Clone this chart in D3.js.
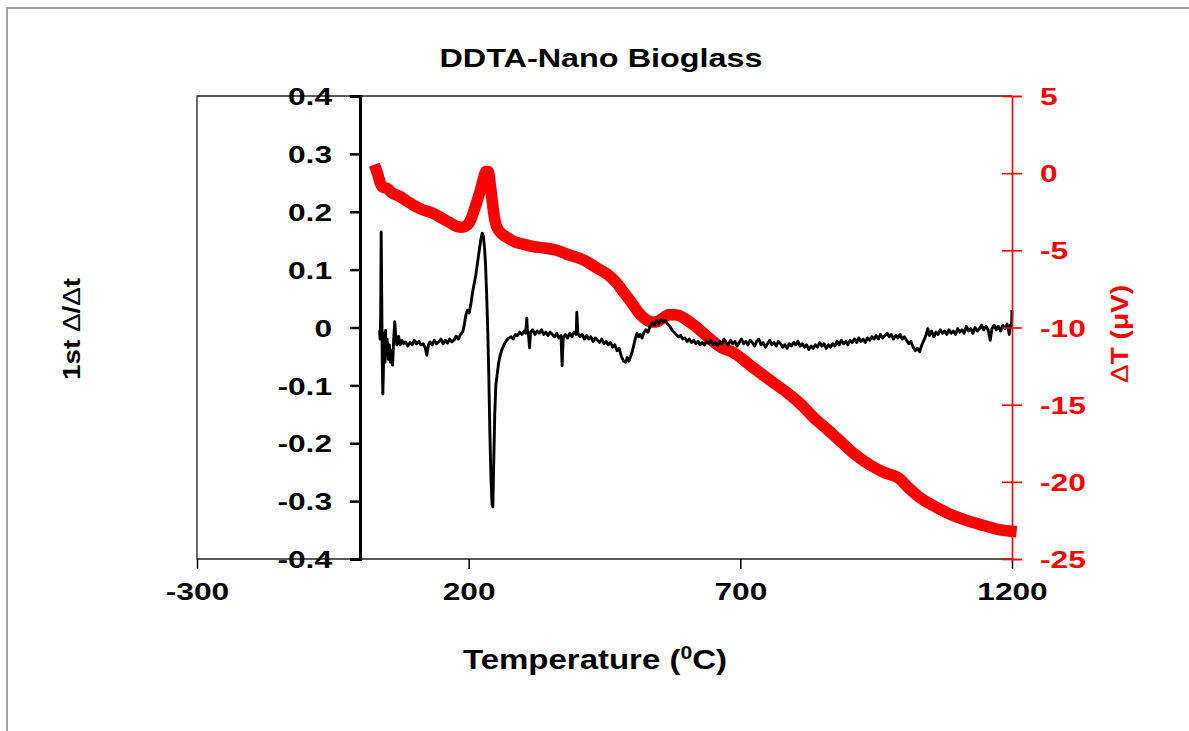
<!DOCTYPE html>
<html>
<head>
<meta charset="utf-8">
<script src="https://cdn.jsdelivr.net/npm/d3@7"></script>
<style>
  html, body { margin: 0; padding: 0; background: #fff; }
  svg { display: block; }
  text { font-family: "Liberation Sans", Arial, sans-serif; font-weight: bold; }
</style>
</head>
<body>
<svg id="chart" width="1189" height="731"></svg>
<script>
// ---- Data ----
const xTicks = [-300, 200, 700, 1200];
const xTickLabels = ["-300", "200", "700", "1200"];
const leftTicks = [-0.4, -0.3, -0.2, -0.1, 0, 0.1, 0.2, 0.3, 0.4];
const leftTickLabels = ["-0.4", "-0.3", "-0.2", "-0.1", "0", "0.1", "0.2", "0.3", "0.4"];
const rightTicks = [-25, -20, -15, -10, -5, 0, 5];
const rightTickLabels = ["-25", "-20", "-15", "-10", "-5", "0", "5"];

// DTA signal (ΔT, µV) vs temperature
const dtaT = [30, 33, 37, 42, 50, 60, 73, 90, 110, 134, 150, 165, 178, 188, 196, 204, 212, 220, 227, 232, 236, 240, 244, 248, 252, 260, 270, 285, 300, 318, 340, 362, 385, 410, 425, 441, 457, 472, 487, 502, 512, 520, 533, 545, 557, 570, 585, 601, 620, 643, 665, 686, 720, 750, 785, 809, 840, 860, 882, 910, 943, 965, 993, 1010, 1030, 1053, 1080, 1116, 1150, 1176, 1198];
const dtaV = [0.2, -0.1, -0.6, -0.9, -1.0, -1.3, -1.5, -1.9, -2.3, -2.6, -2.9, -3.2, -3.45, -3.5, -3.4, -3.0, -2.2, -1.3, -0.4, 0.1, 0.1, -0.8, -2.0, -3.0, -3.5, -3.9, -4.15, -4.45, -4.6, -4.75, -4.85, -5.0, -5.3, -5.6, -5.9, -6.25, -6.6, -7.1, -7.8, -8.5, -9.0, -9.3, -9.6, -9.65, -9.4, -9.15, -9.2, -9.5, -10.0, -10.7, -11.3, -11.6, -12.5, -13.3, -14.2, -14.9, -16.0, -16.6, -17.3, -18.2, -19.0, -19.4, -19.8, -20.4, -21.0, -21.5, -22.0, -22.5, -22.85, -23.1, -23.2];

// First derivative (1st Δ/Δt) vs temperature
const derivT = [36, 37, 38, 39, 40, 41, 42, 43, 44, 45, 46, 47, 48, 50, 52, 54, 56, 58, 60, 62, 64, 66, 68, 71, 74, 77, 80, 84, 88, 92, 96, 100, 104, 108, 112, 116, 120, 123, 126, 129, 133, 137, 141, 145, 149, 153, 157, 161, 165, 169, 173, 177, 181, 185, 189, 192, 195, 198, 201, 204, 207, 210, 213, 216, 219, 222, 225, 227, 229, 231, 233, 235, 237, 239, 241, 243, 244.5, 246, 248, 250, 252, 255, 258, 262, 266, 270, 274, 278, 282, 286, 290, 294, 298, 302, 305, 307, 308, 310, 312, 314, 318, 322, 326, 330, 334, 338, 342, 346, 350, 354, 358, 362, 366, 370, 372, 374, 378, 382, 386, 390, 394, 398, 399, 401, 405, 409, 413, 417, 421, 425, 429, 433, 437, 441, 445, 449, 453, 457, 461, 465, 469, 473, 477, 481, 485, 489, 492, 495, 498, 501, 504, 507, 510, 513, 516, 519, 522, 526, 530, 534, 538, 542, 546, 550, 554, 558, 562, 566, 570, 574, 578, 582, 586, 590, 594, 598, 602, 606, 610, 614, 618, 622, 626, 630, 634, 638, 642, 646, 650, 654, 658, 662, 666, 670, 674, 678, 682, 686, 690, 694, 698, 702, 706, 710, 714, 718, 722, 726, 730, 734, 738, 742, 746, 750, 754, 758, 762, 766, 770, 774, 778, 782, 786, 790, 794, 798, 802, 806, 810, 814, 818, 822, 826, 830, 834, 838, 842, 846, 850, 854, 858, 862, 866, 870, 874, 878, 882, 886, 890, 894, 898, 902, 906, 910, 914, 918, 922, 926, 930, 934, 938, 942, 946, 950, 954, 958, 962, 966, 970, 974, 978, 982, 986, 990, 994, 998, 1002, 1006, 1010, 1014, 1018, 1022, 1026, 1030, 1034, 1038, 1042, 1045, 1048, 1052, 1056, 1060, 1064, 1068, 1072, 1076, 1080, 1084, 1088, 1092, 1096, 1100, 1104, 1108, 1112, 1116, 1120, 1124, 1128, 1132, 1136, 1140, 1144, 1148, 1152, 1156, 1160, 1163, 1167, 1171, 1175, 1179, 1183, 1187, 1191, 1195, 1197, 1199, 1200];
const derivV = [-0.005, -0.02, 0.02, 0.165, 0.05, -0.06, -0.115, -0.08, -0.01, -0.04, -0.06, -0.005, -0.045, -0.02, -0.055, -0.03, -0.06, -0.04, -0.065, -0.02, 0.01, -0.02, -0.03, -0.015, -0.03, -0.022, -0.028, -0.025, -0.032, -0.026, -0.03, -0.022, -0.028, -0.024, -0.03, -0.028, -0.035, -0.048, -0.03, -0.025, -0.03, -0.022, -0.028, -0.025, -0.02, -0.028, -0.022, -0.027, -0.02, -0.025, -0.022, -0.015, -0.02, -0.012, -0.008, 0.005, 0.022, 0.03, 0.025, 0.04, 0.06, 0.075, 0.09, 0.11, 0.13, 0.15, 0.163, 0.158, 0.14, 0.11, 0.06, 0.0, -0.08, -0.18, -0.26, -0.305, -0.31, -0.24, -0.15, -0.1, -0.085, -0.062, -0.048, -0.036, -0.028, -0.022, -0.018, -0.016, -0.02, -0.012, -0.014, -0.008, -0.012, -0.006, -0.01, 0.016, -0.005, -0.012, -0.035, -0.008, -0.004, -0.012, -0.006, -0.01, -0.004, -0.012, -0.008, -0.014, -0.008, -0.012, -0.016, -0.01, -0.018, -0.014, -0.066, -0.018, -0.012, -0.018, -0.01, -0.016, -0.008, -0.012, 0.026, -0.01, -0.016, -0.012, -0.02, -0.014, -0.02, -0.016, -0.024, -0.018, -0.022, -0.026, -0.02, -0.028, -0.024, -0.03, -0.026, -0.034, -0.03, -0.04, -0.036, -0.05, -0.058, -0.06, -0.052, -0.058, -0.05, -0.042, -0.03, -0.018, -0.01, -0.016, -0.012, -0.018, -0.01, -0.004, -0.008, 0.002, 0.008, 0.004, 0.012, 0.006, 0.014, 0.01, 0.012, 0.006, 0.002, -0.004, -0.008, -0.012, -0.016, -0.014, -0.02, -0.018, -0.024, -0.02, -0.026, -0.022, -0.028, -0.024, -0.03, -0.026, -0.03, -0.024, -0.028, -0.022, -0.03, -0.026, -0.032, -0.024, -0.028, -0.02, -0.026, -0.03, -0.022, -0.028, -0.024, -0.032, -0.026, -0.02, -0.028, -0.024, -0.03, -0.022, -0.026, -0.032, -0.024, -0.02, -0.03, -0.026, -0.034, -0.028, -0.022, -0.03, -0.026, -0.032, -0.024, -0.028, -0.034, -0.03, -0.036, -0.028, -0.032, -0.026, -0.03, -0.024, -0.032, -0.028, -0.034, -0.03, -0.038, -0.032, -0.036, -0.03, -0.034, -0.026, -0.032, -0.028, -0.036, -0.03, -0.034, -0.028, -0.032, -0.024, -0.03, -0.022, -0.028, -0.024, -0.03, -0.022, -0.026, -0.02, -0.026, -0.018, -0.024, -0.02, -0.026, -0.018, -0.022, -0.016, -0.02, -0.014, -0.02, -0.012, -0.018, -0.014, -0.01, -0.016, -0.012, -0.02, -0.014, -0.018, -0.012, -0.02, -0.016, -0.022, -0.028, -0.024, -0.034, -0.04, -0.036, -0.042, -0.03, -0.022, -0.012, -0.002, -0.014, -0.006, -0.016, -0.008, -0.012, -0.004, -0.01, -0.006, -0.012, -0.004, -0.01, -0.006, -0.012, -0.002, -0.008, -0.004, -0.01, 0.002, -0.006, -0.002, -0.01, 0.0, -0.006, -0.002, 0.004, -0.004, 0.002, -0.004, -0.022, -0.002, 0.004, -0.004, 0.002, -0.006, 0.004, -0.002, 0.006, -0.012, 0.004, 0.0, 0.03];

// ---- Layout ----
const svg = d3.select("#chart");
const plot = { left: 197, right: 1012, top: 96, bottom: 559 };

const x = d3.scaleLinear().domain([-300, 1200]).range([plot.left, plot.right]);
const yL = d3.scaleLinear().domain([-0.4, 0.4]).range([plot.bottom, plot.top]);
const yR = d3.scaleLinear().domain([-25, 5]).range([plot.bottom, plot.top]);

const TICK_STRETCH = 1.32;
function stretch(sel, factor, target) {
  sel.each(function () {
    const w = this.getComputedTextLength();
    const t = target != null ? target : w * factor;
    this.setAttribute("textLength", t);
    this.setAttribute("lengthAdjust", "spacingAndGlyphs");
  });
}

// outer frame (left and top visible)
svg.append("path").attr("d", "M7,731 V8 H1189")
  .attr("fill", "none").attr("stroke", "#a0a0a0").attr("stroke-width", 2);

// plot frame
svg.append("path")
  .attr("d", `M${plot.right},${plot.top} H${plot.left} V${plot.bottom} H${plot.right}`)
  .attr("fill", "none").attr("stroke", "#222").attr("stroke-width", 1.3);

// Series: DTA (red, thick)
const dtaData = dtaT.map((t, i) => [t, dtaV[i]]);
svg.append("path")
  .datum(dtaData)
  .attr("fill", "none")
  .attr("stroke", "#ff0000")
  .attr("stroke-width", 11.5)
  .attr("stroke-linejoin", "round")
  .attr("stroke-linecap", "square")
  .attr("d", d3.line().x(d => x(d[0])).y(d => yR(d[1])).curve(d3.curveMonotoneX));

// Series: derivative (black)
const derivData = derivT.map((t, i) => [t, derivV[i]]);
svg.append("path")
  .datum(derivData)
  .attr("fill", "none")
  .attr("stroke", "#000")
  .attr("stroke-width", 2.9)
  .attr("stroke-linejoin", "round")
  .attr("d", d3.line().x(d => x(d[0])).y(d => yL(d[1])));

// Left axis at x = 0
const leftAxis = d3.axisLeft(yL).tickValues(leftTicks)
  .tickFormat((d, i) => leftTickLabels[i]).tickSize(10).tickPadding(18);
const gL = svg.append("g").attr("transform", `translate(${x(0)},0)`).call(leftAxis);
gL.select(".domain").attr("stroke", "#000").attr("stroke-width", 3);
gL.selectAll(".tick line").attr("stroke", "#000").attr("stroke-width", 2.5);
gL.selectAll(".tick text").attr("font-size", 24).attr("fill", "#000")
  .attr("font-family", "Liberation Sans, Arial, sans-serif").attr("font-weight", "bold")
  .attr("dy", "0.36em");
stretch(gL.selectAll(".tick text"), TICK_STRETCH);

// Bottom axis
const bottomAxis = d3.axisBottom(x).tickValues(xTicks)
  .tickFormat((d, i) => xTickLabels[i]).tickSize(10).tickPadding(14);
const gB = svg.append("g").attr("transform", `translate(0,${plot.bottom})`).call(bottomAxis);
gB.select(".domain").remove();
gB.selectAll(".tick line").attr("stroke", "#000").attr("stroke-width", 1.5);
gB.selectAll(".tick text").attr("font-size", 24).attr("fill", "#000")
  .attr("font-family", "Liberation Sans, Arial, sans-serif").attr("font-weight", "bold");
stretch(gB.selectAll(".tick text"), TICK_STRETCH);

// Right axis (red)
const rightAxis = d3.axisRight(yR).tickValues(rightTicks)
  .tickFormat((d, i) => rightTickLabels[i]).tickSize(10).tickPadding(18);
const gR = svg.append("g").attr("transform", `translate(${plot.right},0)`).call(rightAxis);
gR.select(".domain").attr("stroke", "#ff0000").attr("stroke-width", 1.6);
gR.selectAll(".tick line").attr("stroke", "#ff0000").attr("stroke-width", 1.6).attr("x1", -10);
gR.selectAll(".tick text").attr("font-size", 24).attr("fill", "#ff0000")
  .attr("font-family", "Liberation Sans, Arial, sans-serif").attr("font-weight", "bold")
  .attr("dy", "0.36em");
stretch(gR.selectAll(".tick text"), TICK_STRETCH);

// Title
const title = svg.append("text").attr("x", 601).attr("y", 67)
  .attr("text-anchor", "middle").attr("font-size", 26).attr("fill", "#000")
  .text("DDTA-Nano Bioglass");
stretch(title, 1, 323);

// X title
const xt = svg.append("text").attr("x", 595).attr("y", 669)
  .attr("text-anchor", "middle").attr("font-size", 28).attr("fill", "#000");
xt.append("tspan").text("Temperature (");
xt.append("tspan").attr("font-size", 18).attr("dy", -10).text("0");
xt.append("tspan").attr("dy", 10).text("C)");
stretch(xt, 1, 264);

// Left Y title
const ylt = svg.append("text")
  .attr("transform", "translate(80,329) rotate(-90)")
  .attr("text-anchor", "middle").attr("font-size", 23).attr("fill", "#000");
ylt.append("tspan").text("1st ");
ylt.append("tspan").attr("font-weight", "normal").text("Δ");
ylt.append("tspan").text("/");
ylt.append("tspan").attr("font-weight", "normal").text("Δ");
ylt.append("tspan").text("t");
stretch(ylt, 1, 102);

// Right Y title
const yrt = svg.append("text")
  .attr("transform", "translate(1128,334) rotate(-90)")
  .attr("text-anchor", "middle").attr("font-size", 24).attr("fill", "#ff0000");
yrt.append("tspan").attr("font-weight", "normal").text("Δ");
yrt.append("tspan").text("T (μV)");
stretch(yrt, 1, 98);
</script>
</body>
</html>
